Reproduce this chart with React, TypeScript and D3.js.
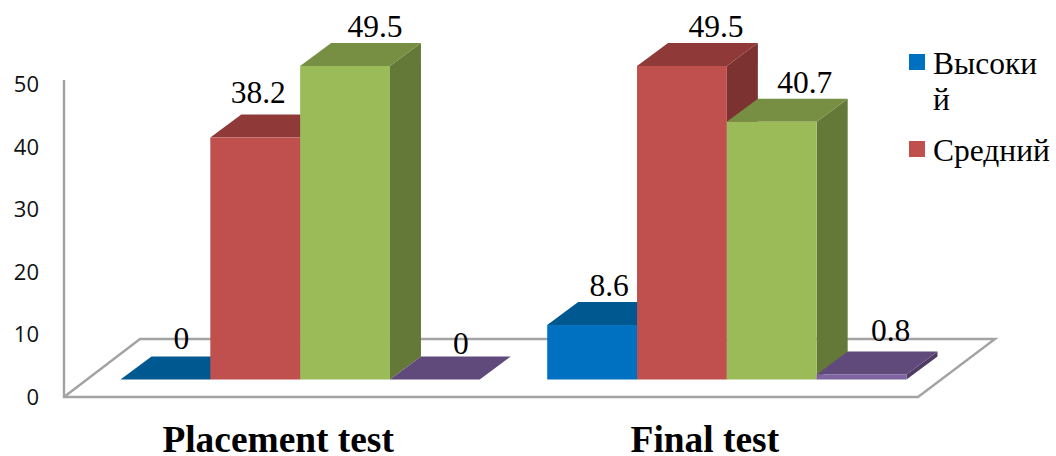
import React from "react";
import * as d3 from "d3";

// Test results per group
const categories = ["Placement test", "Final test"];
const highValues = [0, 8.6];
const midValues = [38.2, 49.5];
const thirdValues = [49.5, 40.7];
const fourthValues = [0, 0.8];
const yTicks = [0, 10, 20, 30, 40, 50];
const legendNames = [["Высоки", "й"], ["Средний"]];

const WIDTH = 1056;
const HEIGHT = 456;
const DEPTH_X = 31;
const DEPTH_Y = 23;
const SERIF = '"Liberation Serif", "Times New Roman", serif';

const seriesList = [
  { values: highValues, front: "#0070c0", top: "#005890", side: "#00497a" },
  { values: midValues, front: "#c0504d", top: "#8f3a38", side: "#7c3230" },
  { values: thirdValues, front: "#9bbb59", top: "#778f43", side: "#647838" },
  { values: fourthValues, front: "#8064a2", top: "#604a7b", side: "#4f3d66" },
];

// Offsets of each value label from the centre of its bar's front top edge
const labelOffsets = [
  [[16, -31], [17, -29]],
  [[3, -35], [34, -29]],
  [[30, -29], [33, -29]],
  [[26, -26], [29, -33]],
];

const x0 = d3.scaleBand().domain(categories).range([120.5, 906.5]).paddingInner(0.158).paddingOuter(0);
const x1 = d3.scaleBand().domain(d3.range(seriesList.length).map(String)).range([0, x0.bandwidth()]);
const y = d3.scaleLinear().domain([0, 50]).range([379.5, 62.8]);
const tickY = d3.scaleLinear().domain([0, 50]).range([397, 84]);

const poly = (pts: [number, number][]) => (d3.line()(pts) ?? "") + "Z";

function Bar({ x, w, value, s }: { x: number; w: number; value: number; s: (typeof seriesList)[number] }) {
  const b = y(0);
  const t = y(value);
  const r = x + w;
  return (
    <g>
      <path d={poly([[r, b], [r + DEPTH_X, b - DEPTH_Y], [r + DEPTH_X, t - DEPTH_Y], [r, t]])} fill={s.side} />
      <path d={poly([[x, t], [r, t], [r + DEPTH_X, t - DEPTH_Y], [x + DEPTH_X, t - DEPTH_Y]])} fill={s.top} />
      <rect x={x} y={t} width={w} height={b - t} fill={s.front} />
    </g>
  );
}

export default function App() {
  const wallColor = "#a3a3a3";
  return (
    <svg width={WIDTH} height={HEIGHT} style={{ position: "absolute", left: 0, top: 0, display: "block" }}>
      <rect width={WIDTH} height={HEIGHT} fill="#fff" />

      {/* Wall edge and floor outline */}
      <path
        d={d3.line()([[64, 80], [64, 397], [918, 397], [995, 339], [140, 339], [64, 397]]) ?? ""}
        fill="none"
        stroke={wallColor}
        strokeWidth={2.4}
        strokeLinejoin="miter"
      />

      {categories.map((c, ci) => (
        <g key={c}>
          {seriesList.map((s, si) => (
            <Bar key={si} x={x0(c)! + x1(String(si))!} w={x1.bandwidth()} value={s.values[ci]} s={s} />
          ))}
        </g>
      ))}

      {yTicks.map((t) => (
        <text key={t} x={39} y={tickY(t)} dy="0.36em" textAnchor="end" fontFamily='"Open Sans", sans-serif' fontSize={22} fill="#111">
          {t}
        </text>
      ))}

      {categories.map((c, ci) =>
        seriesList.map((s, si) => {
          const cx = x0(c)! + x1(String(si))! + x1.bandwidth() / 2;
          const [dx, dy] = labelOffsets[si][ci];
          return (
            <text key={c + si} x={cx + dx} y={y(s.values[ci]) + dy} textAnchor="middle" fontFamily={SERIF} fontSize={31.5} fill="#000">
              {s.values[ci]}
            </text>
          );
        })
      )}

      {categories.map((c) => (
        <text key={c} x={x0(c)! + x0.bandwidth() / 2 - 22} y={452} textAnchor="middle" fontFamily={SERIF} fontWeight="bold" fontSize={37.4} fill="#000">
          {c}
        </text>
      ))}

      {/* Legend */}
      <rect x={909} y={54} width={16} height={16} fill={seriesList[0].front} />
      <text x={933} y={74} fontFamily={SERIF} fontSize={31.5} fill="#000">
        {legendNames[0].map((line, i) => (
          <tspan key={i} x={933} dy={i === 0 ? 0 : 36}>{line}</tspan>
        ))}
      </text>
      <rect x={909} y={141} width={16} height={16} fill={seriesList[1].front} />
      <text x={933} y={161} fontFamily={SERIF} fontSize={31.5} fill="#000">{legendNames[1][0]}</text>
    </svg>
  );
}
